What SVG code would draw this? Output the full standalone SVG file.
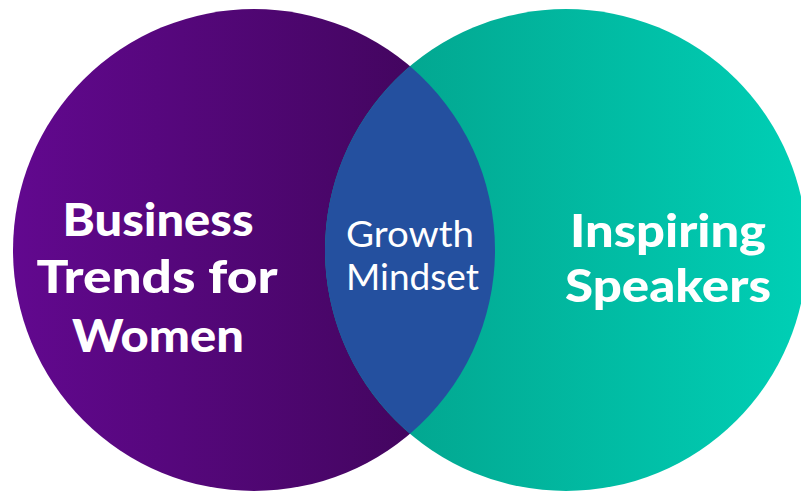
<svg xmlns="http://www.w3.org/2000/svg" width="801" height="494" viewBox="0 0 801 494">
  <defs>
    <linearGradient id="gLeft" gradientUnits="userSpaceOnUse" x1="13" y1="0" x2="495" y2="0">
      <stop offset="0" stop-color="#62088f"/>
      <stop offset="1" stop-color="#3d0556"/>
    </linearGradient>
    <linearGradient id="gRight" gradientUnits="userSpaceOnUse" x1="325" y1="0" x2="801" y2="0">
      <stop offset="0" stop-color="#039f89"/>
      <stop offset="1" stop-color="#00cfb5"/>
    </linearGradient>
  </defs>
  <style>
    .big { font-family: Lato, "Liberation Sans", sans-serif; font-weight: 900; font-size: 46px; fill: #ffffff; text-anchor: middle; }
    .mid { font-family: Lato, "Liberation Sans", sans-serif; font-weight: 400; font-size: 36px; fill: #ffffff; text-anchor: middle; }
  </style>
  <rect width="801" height="494" fill="#ffffff"/>
  <g id="left-circle">
    <circle cx="254" cy="250" r="241" fill="url(#gLeft)"/>
    <text class="big" x="158" y="236" textLength="191" lengthAdjust="spacingAndGlyphs">Business</text>
    <text class="big" x="157" y="293" textLength="241" lengthAdjust="spacingAndGlyphs">Trends for</text>
    <text class="big" x="158" y="352" textLength="172" lengthAdjust="spacingAndGlyphs">Women</text>
  </g>
  <g id="right-circle">
    <circle cx="566" cy="250" r="241" fill="url(#gRight)"/>
    <text class="big" x="668" y="247" textLength="196" lengthAdjust="spacingAndGlyphs">Inspiring</text>
    <text class="big" x="668" y="302" textLength="206" lengthAdjust="spacingAndGlyphs">Speakers</text>
  </g>
  <g id="overlap">
    <path d="M410,66.3 A241,241 0 0 1 410,433.7 A241,241 0 0 1 410,66.3 Z" fill="#24509f"/>
    <text class="mid" x="410" y="247" textLength="128" lengthAdjust="spacingAndGlyphs">Growth</text>
    <text class="mid" x="412.5" y="290" textLength="133" lengthAdjust="spacingAndGlyphs">Mindset</text>
  </g>
  <g id="connectors"/>
</svg>
